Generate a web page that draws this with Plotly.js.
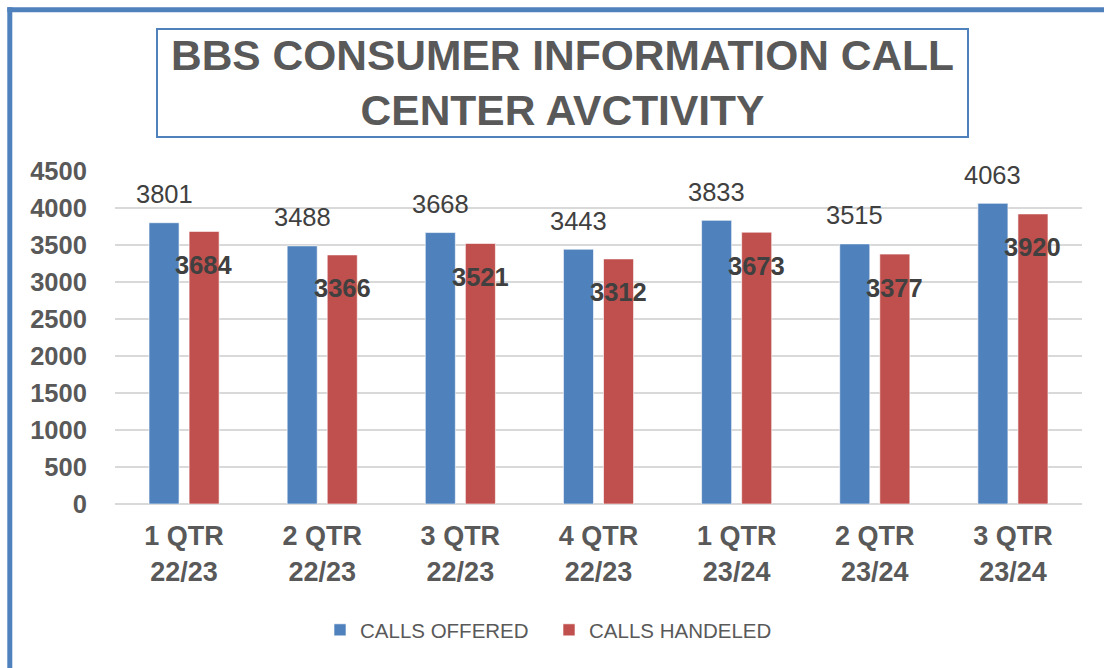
<!DOCTYPE html>
<html>
<head>
<meta charset="utf-8">
<script src="https://cdn.plot.ly/plotly-3.0.1.min.js"></script>
<style>
html,body{margin:0;padding:0;background:#fff;}
#chart{width:1104px;height:668px;}
</style>
</head>
<body>
<div id="chart"></div>
<script>
const categories = ["1 QTR<br>22/23","2 QTR<br>22/23","3 QTR<br>22/23","4 QTR<br>22/23","1 QTR<br>23/24","2 QTR<br>23/24","3 QTR<br>23/24"];
const callsOffered = [3801, 3488, 3668, 3443, 3833, 3515, 4063];
const callsHandled = [3684, 3366, 3521, 3312, 3673, 3377, 3920];
const yTicks = [0, 500, 1000, 1500, 2000, 2500, 3000, 3500, 4000, 4500];
const seriesNames = ["CALLS OFFERED", "CALLS HANDELED"];
const titleText = "BBS CONSUMER INFORMATION CALL<br>CENTER AVCTIVITY";

const FONT = "Liberation Sans, Arial, sans-serif";
const BLUE = "#4f81bd", RED = "#c0504d";

// plot area in pixels (for decoration shapes placement)
const W = 1104, H = 668, ML = 115, MR = 22, MT = 171, MB = 164;
const PW = W - ML - MR, PH = H - MT - MB;
const px = x => (x - ML) / PW;
const py = y => (H - MB - y) / PH;

const traces = [
  {type:"bar", x:categories, y:callsOffered, name:seriesNames[0],
   marker:{color:BLUE, line:{color:"rgba(255,255,255,0.6)", width:1}}, hoverinfo:"x+y"},
  {type:"bar", x:categories, y:callsHandled, name:seriesNames[1],
   marker:{color:RED, line:{color:"rgba(255,255,255,0.6)", width:1}}, hoverinfo:"x+y"}
];

const annotations = [];
categories.forEach((c, i) => {
  annotations.push({x:c, y:callsOffered[i], xref:"x", yref:"y", text:String(callsOffered[i]),
    showarrow:false, xshift:-20, yshift:28.5, yanchor:"middle",
    font:{family:FONT, size:25.5, color:"#404040"}});
  annotations.push({x:c, y:callsHandled[i], xref:"x", yref:"y", text:String(callsHandled[i]),
    showarrow:false, xshift:20, yshift:-33.5, yanchor:"middle",
    font:{family:FONT, size:25.5, color:"#404040", weight:"bold"}});
});

const shapes = [
  // title box
  {type:"rect", xref:"paper", yref:"paper", x0:px(157), x1:px(968), y0:py(137), y1:py(29),
   line:{color:BLUE, width:2}, fillcolor:"rgba(0,0,0,0)", layer:"above"},
  // outer frame (top and left)
  {type:"line", xref:"paper", yref:"paper", x0:px(7.3), x1:px(1110), y0:py(9.8), y1:py(9.8),
   line:{color:BLUE, width:5}},
  {type:"line", xref:"paper", yref:"paper", x0:px(9.8), x1:px(9.8), y0:py(7.3), y1:py(680),
   line:{color:BLUE, width:5}}
];

const layout = {
  width:W, height:H,
  margin:{l:ML, r:MR, t:MT, b:MB, pad:0},
  paper_bgcolor:"#ffffff", plot_bgcolor:"#ffffff",
  font:{family:FONT, color:"#595959"},
  title:{text:titleText, xref:"container", yref:"container", x:562.5/W, xanchor:"center",
         y:1-70/H, yanchor:"middle",
         font:{family:FONT, size:42.5, weight:"bold", color:"#595959"}},
  barmode:"group", bargap:0.42, bargroupgap:0.25,
  xaxis:{type:"category", showgrid:false, showline:false, zeroline:false,
         ticks:"outside", ticklen:8, tickcolor:"rgba(0,0,0,0)",
         tickfont:{family:FONT, size:27, weight:"bold", color:"#595959"}},
  yaxis:{range:[0,4500], tickvals:yTicks, ticktext:yTicks.map(String),
         showgrid:true, gridcolor:"#d9d9d9", gridwidth:2,
         zeroline:true, zerolinecolor:"#d9d9d9", zerolinewidth:2, showline:false,
         ticks:"outside", ticklen:22, tickcolor:"rgba(0,0,0,0)",
         tickfont:{family:FONT, size:25.5, weight:"bold", color:"#595959"}},
  showlegend:true,
  legend:{orientation:"h", x:px(549), xanchor:"center", y:py(630), yanchor:"middle",
          entrywidth:184, entrywidthmode:"pixels",
          font:{family:FONT, size:20.5, color:"#595959"}, itemclick:false, traceorder:"normal"},
  annotations:annotations,
  shapes:shapes
};

Plotly.newPlot("chart", traces, layout, {displayModeBar:false, staticPlot:true});
</script>
</body>
</html>
